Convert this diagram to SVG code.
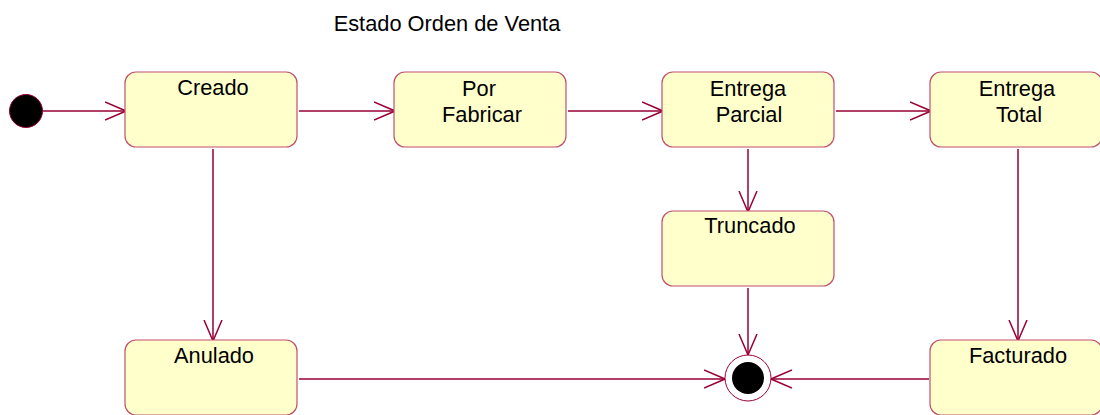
<svg xmlns="http://www.w3.org/2000/svg" width="1100" height="415" viewBox="0 0 1100 415">
<defs>
<style>
.st{fill:#FFFFCC;stroke:#C0506E;stroke-width:1.2}
.tx{font-family:"Liberation Sans",Arial,sans-serif;font-size:21.8px;fill:#000;text-anchor:middle}
.cn{stroke:#990033;stroke-width:1.5;fill:none}
</style>
<marker id="ah" viewBox="0 0 22 20" refX="21" refY="10" markerWidth="22" markerHeight="20" markerUnits="userSpaceOnUse" orient="auto">
<path d="M0,1 L21,10 L0,19" fill="none" stroke="#990033" stroke-width="1.5"/>
</marker>
</defs>
<rect width="1100" height="415" fill="#fff"/>
<text class="tx" x="447" y="31">Estado Orden de Venta</text>
<g id="connectors">
<line class="cn" x1="43" y1="111" x2="126" y2="111" marker-end="url(#ah)"/>
<line class="cn" x1="299" y1="111" x2="395" y2="111" marker-end="url(#ah)"/>
<line class="cn" x1="568" y1="111" x2="663" y2="111" marker-end="url(#ah)"/>
<line class="cn" x1="836" y1="111" x2="931" y2="111" marker-end="url(#ah)"/>
<line class="cn" x1="213" y1="149" x2="213" y2="341" marker-end="url(#ah)"/>
<line class="cn" x1="748" y1="149" x2="748" y2="212" marker-end="url(#ah)"/>
<line class="cn" x1="1018" y1="149" x2="1018" y2="341" marker-end="url(#ah)"/>
<line class="cn" x1="748" y1="288" x2="748" y2="355" marker-end="url(#ah)"/>
<line class="cn" x1="299" y1="379" x2="725" y2="379" marker-end="url(#ah)"/>
<line class="cn" x1="929" y1="379" x2="771" y2="379" marker-end="url(#ah)"/>
</g>
<g id="initial">
<circle cx="26" cy="111" r="16.5" fill="#000" stroke="#990033" stroke-width="1"/>
</g>
<g id="creado">
<rect class="st" x="125" y="72" width="172" height="75" rx="11"/>
<text class="tx" x="213" y="95">Creado</text>
</g>
<g id="porFabricar">
<rect class="st" x="394" y="72" width="172" height="75" rx="11"/>
<text class="tx" x="479" y="96">Por</text>
<text class="tx" x="482" y="122">Fabricar</text>
</g>
<g id="entregaParcial">
<rect class="st" x="662" y="72" width="172" height="75" rx="11"/>
<text class="tx" x="748" y="96">Entrega</text>
<text class="tx" x="749" y="122">Parcial</text>
</g>
<g id="entregaTotal">
<rect class="st" x="930" y="72" width="172" height="75" rx="11"/>
<text class="tx" x="1017" y="96">Entrega</text>
<text class="tx" x="1019" y="122">Total</text>
</g>
<g id="truncado">
<rect class="st" x="662" y="211" width="172" height="75" rx="11"/>
<text class="tx" x="750" y="233">Truncado</text>
</g>
<g id="anulado">
<rect class="st" x="125" y="340" width="172" height="75" rx="11"/>
<text class="tx" x="214" y="363">Anulado</text>
</g>
<g id="facturado">
<rect class="st" x="930" y="340" width="172" height="75" rx="11"/>
<text class="tx" x="1018" y="363">Facturado</text>
</g>
<g id="final">
<circle cx="748" cy="378" r="23" fill="#fff" stroke="#990033" stroke-width="1"/>
<circle cx="748" cy="378" r="16" fill="#000"/>
</g>
</svg>
